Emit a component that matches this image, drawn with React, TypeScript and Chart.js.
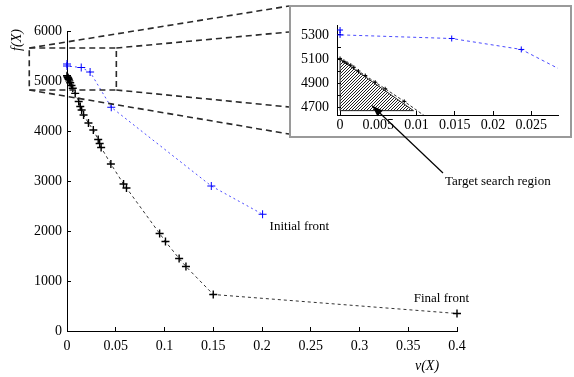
import React, { useEffect, useRef } from 'react';
import { Chart, registerables } from 'chart.js';

Chart.register(...registerables);

// ---------- data ----------
const initialX = [0, 0, 0.0146, 0.0237, 0.0454, 0.148, 0.2006];
const initialY = [5340, 5300, 5270, 5180, 4475, 2900, 2335];

const finalX = [0, 0.0005, 0.0009, 0.0014, 0.0018, 0.0024, 0.0033, 0.0046, 0.0059, 0.0084,
  0.012, 0.0136, 0.015, 0.017, 0.022, 0.027, 0.032, 0.0335, 0.035, 0.045,
  0.058, 0.061, 0.095, 0.101, 0.115, 0.122, 0.15, 0.4];
const finalY = [5106, 5082, 5067, 5050, 5033, 5002, 4965, 4910, 4856, 4752,
  4590, 4490, 4420, 4320, 4160, 4020, 3830, 3750, 3670, 3340,
  2940, 2860, 1950, 1790, 1450, 1290, 730, 350];

// target search region (triangle) in inset data coords
const regionX = [0, 0, 0.0096, 0];
const regionY = [4676, 5100, 4676, 4676];
const regionFillX = [0, 0.0096];
const regionFillY = [5100, 4676];
const regionBase = 4676;

// axis ranges: [min, max, step]
const mainXRange = [0, 0.4, 0.05];
const mainYRange = [0, 6000, 1000];
const insetXRange = [-0.0004, 0.0285, 0.005];
const insetYRange = [4640, 5378, 100];
const insetYLabelled = [4700, 4900, 5100, 5300];

// zoomed box in main-chart data coords
const zoomBoxX = [-0.0387, 0.0506];
const zoomBoxY = [4820, 5660];
const arrowTip = [0.0042, 4716];

const labelInitial = 'Initial front';
const labelFinal = 'Final front';
const labelRegion = 'Target search region';
const yTitle = 'f(X)';
const xTitle = 'v(X)';

// ---------- layout ----------
const W = 574;
const H = 377;
const INSET_LEFT = 289;
const INSET_TOP = 5;
const INSET_W = 285;
const INSET_H = 190;
const BOX_W = 283;
const BOX_H = 133;
const SERIF = "'Liberation Serif', 'Times New Roman', serif";

const pts = (xs: number[], ys: number[]) => xs.map((x, i) => ({ x, y: ys[i] }));
const fmt = (v: number) => (Math.abs(v) < 1e-9 ? '0' : String(Number(v.toFixed(4))));

export default function App() {
  const mainRef = useRef<HTMLCanvasElement>(null);
  const insetRef = useRef<HTMLCanvasElement>(null);

  useEffect(() => {
    document.body.style.margin = '0';
    const mainCanvas = mainRef.current!;
    const insetCanvas = insetRef.current!;

    const mainDecor = {
      id: 'mainDecor',
      afterDraw(chart: any) {
        const { ctx } = chart;
        const xs = chart.scales.x;
        const ys = chart.scales.y;
        ctx.save();
        // zoom rectangle
        const x0 = xs.getPixelForValue(zoomBoxX[0]);
        const x1 = xs.getPixelForValue(zoomBoxX[1]);
        const y0 = ys.getPixelForValue(zoomBoxY[1]);
        const y1 = ys.getPixelForValue(zoomBoxY[0]);
        ctx.strokeStyle = '#2a2a2a';
        ctx.lineWidth = 1.6;
        ctx.setLineDash([6, 4]);
        ctx.strokeRect(x0, y0, x1 - x0, y1 - y0);
        const lines = [
          [x0, y0, INSET_LEFT, 6],
          [x1, y0, INSET_LEFT, 32],
          [x1, y1, INSET_LEFT, 107],
          [x0, y1, INSET_LEFT, 134],
        ];
        ctx.beginPath();
        lines.forEach(([a, b, c, d]) => {
          ctx.moveTo(a, b);
          ctx.lineTo(c, d);
        });
        ctx.stroke();
        ctx.setLineDash([]);

        // series labels
        ctx.fillStyle = '#000';
        ctx.font = `13px ${SERIF}`;
        ctx.textBaseline = 'middle';
        const li = initialX.length - 1;
        const pxI = xs.getPixelForValue(initialX[li]);
        const pyI = ys.getPixelForValue(initialY[li]);
        ctx.textAlign = 'left';
        ctx.fillText(labelInitial, pxI + 7, pyI + 12);
        const lf = finalX.length - 1;
        const pxF = xs.getPixelForValue(finalX[lf]);
        const pyF = ys.getPixelForValue(finalY[lf]);
        ctx.textAlign = 'right';
        ctx.fillText(labelFinal, pxF + 12, pyF - 15);

        // axis titles
        ctx.font = `italic 14px ${SERIF}`;
        ctx.textAlign = 'center';
        ctx.fillText(xTitle, 427, 366);
        ctx.translate(17, 40);
        ctx.rotate(-Math.PI / 2);
        ctx.fillText(yTitle, 0, 0);
        ctx.restore();
      },
    };

    const axisCommon = (range: number[], tickPad: number, tickLen: number) => ({
      type: 'linear' as const,
      min: range[0],
      max: range[1],
      grid: { drawOnChartArea: false, tickLength: tickLen, color: '#000', lineWidth: 1 },
      border: { color: '#000', width: 1 },
      ticks: {
        stepSize: range[2],
        includeBounds: false,
        autoSkip: false,
        maxRotation: 0,
        minRotation: 0,
        padding: tickPad,
        color: '#000',
        font: { family: SERIF, size: 14 },
        callback: (v: any) => fmt(Number(v)),
      },
    });

    const mainChart = new Chart(mainCanvas, {
      type: 'scatter',
      data: {
        datasets: [
          {
            data: pts(initialX, initialY),
            showLine: true,
            borderColor: '#4a4aff',
            borderWidth: 1,
            borderDash: [2, 3],
            pointStyle: 'cross',
            pointRadius: 4,
            pointBorderColor: '#0000ff',
            pointBorderWidth: 1,
            clip: false,
          } as any,
          {
            data: pts(finalX, finalY),
            showLine: true,
            borderColor: '#333',
            borderWidth: 1,
            borderDash: [3, 3],
            pointStyle: 'cross',
            pointRadius: 4,
            pointBorderColor: '#000',
            pointBorderWidth: 1.4,
            clip: false,
          } as any,
        ],
      },
      options: {
        animation: false,
        responsive: false,
        devicePixelRatio: 1,
        events: [],
        layout: { padding: { left: 0, right: 117, top: 31, bottom: 0 } },
        plugins: { legend: { display: false }, tooltip: { enabled: false } },
        scales: {
          x: {
            ...axisCommon(mainXRange, 11, -4),
            position: 'bottom',
            afterFit: (s: any) => { s.height = 46; },
          } as any,
          y: {
            ...axisCommon(mainYRange, 9, -4),
            position: 'left',
            afterFit: (s: any) => { s.width = 67; },
          } as any,
        },
      },
      plugins: [mainDecor],
    });

    // hatch pattern
    const pc = document.createElement('canvas');
    pc.width = 3;
    pc.height = 3;
    const pg = pc.getContext('2d')!;
    pg.strokeStyle = '#222';
    pg.lineWidth = 1;
    pg.beginPath();
    pg.moveTo(0, 3); pg.lineTo(3, 0);
    pg.moveTo(-1, 1); pg.lineTo(1, -1);
    pg.moveTo(2, 4); pg.lineTo(4, 2);
    pg.stroke();
    const hatch = insetCanvas.getContext('2d')!.createPattern(pc, 'repeat');

    const insetDecor = {
      id: 'insetDecor',
      beforeDraw(chart: any) {
        const { ctx } = chart;
        ctx.save();
        ctx.fillStyle = '#fff';
        ctx.fillRect(0, 0, BOX_W, BOX_H);
        ctx.strokeStyle = '#9a9a9a';
        ctx.lineWidth = 2;
        ctx.strokeRect(1, 1, BOX_W - 2, BOX_H - 2);
        ctx.restore();
      },
      afterDraw(chart: any) {
        const { ctx } = chart;
        const xs = chart.scales.x;
        const ys = chart.scales.y;
        const tx = xs.getPixelForValue(arrowTip[0]);
        const ty = ys.getPixelForValue(arrowTip[1]);
        const sx = 154;
        const sy = 168;
        ctx.save();
        ctx.strokeStyle = '#000';
        ctx.fillStyle = '#000';
        ctx.lineWidth = 1.2;
        ctx.beginPath();
        ctx.moveTo(sx, sy);
        ctx.lineTo(tx, ty);
        ctx.stroke();
        const ang = Math.atan2(ty - sy, tx - sx);
        const L = 11;
        const hw = 4;
        const bx = tx - L * Math.cos(ang);
        const by = ty - L * Math.sin(ang);
        ctx.beginPath();
        ctx.moveTo(tx, ty);
        ctx.lineTo(bx + hw * Math.sin(ang), by - hw * Math.cos(ang));
        ctx.lineTo(bx - hw * Math.sin(ang), by + hw * Math.cos(ang));
        ctx.closePath();
        ctx.fill();
        ctx.font = `13px ${SERIF}`;
        ctx.textAlign = 'left';
        ctx.textBaseline = 'middle';
        ctx.fillText(labelRegion, 156, 177);
        ctx.restore();
      },
    };

    const insetClip = { left: 5, top: 5, right: 0, bottom: 0 };

    const insetChart = new Chart(insetCanvas, {
      type: 'scatter',
      data: {
        datasets: [
          {
            data: pts(initialX, initialY),
            showLine: true,
            borderColor: '#4a4aff',
            borderWidth: 1,
            borderDash: [3, 3],
            pointStyle: 'cross',
            pointRadius: 3,
            pointBorderColor: '#0000ff',
            pointBorderWidth: 1,
            clip: insetClip,
          } as any,
          {
            data: pts(finalX, finalY),
            showLine: true,
            borderColor: '#333',
            borderWidth: 1,
            borderDash: [3, 2],
            pointStyle: 'cross',
            pointRadius: 2,
            pointBorderColor: '#000',
            pointBorderWidth: 1,
            clip: insetClip,
          } as any,
          {
            data: pts(regionX, regionY),
            showLine: true,
            borderColor: '#222',
            borderWidth: 1,
            pointRadius: 0,
            fill: false,
          } as any,
          {
            data: pts(regionFillX, regionFillY),
            showLine: true,
            borderWidth: 0,
            borderColor: 'rgba(0,0,0,0)',
            backgroundColor: hatch,
            pointRadius: 0,
            fill: { value: regionBase },
          } as any,
        ],
      },
      options: {
        animation: false,
        responsive: false,
        devicePixelRatio: 1,
        events: [],
        layout: { padding: { left: 0, right: 16, top: 8, bottom: 60 } },
        plugins: { legend: { display: false }, tooltip: { enabled: false } },
        scales: {
          x: {
            ...axisCommon(insetXRange, 6, -4),
            position: 'bottom',
            afterFit: (s: any) => { s.height = 20; },
          } as any,
          y: {
            ...axisCommon(insetYRange, 12, -4),
            position: 'left',
            afterFit: (s: any) => { s.width = 48; },
            ticks: {
              ...axisCommon(insetYRange, 12, -4).ticks,
              callback: (v: any) => (insetYLabelled.includes(Math.round(Number(v))) ? String(Math.round(Number(v))) : ''),
            },
          } as any,
        },
      },
      plugins: [insetDecor],
    });

    return () => {
      mainChart.destroy();
      insetChart.destroy();
    };
  }, []);

  return (
    <div style={{ position: 'relative', width: W, height: H, background: '#fff' }}>
      <canvas ref={mainRef} width={W} height={H} style={{ position: 'absolute', left: 0, top: 0, width: W, height: H }} />
      <canvas
        ref={insetRef}
        width={INSET_W}
        height={INSET_H}
        style={{ position: 'absolute', left: INSET_LEFT, top: INSET_TOP, width: INSET_W, height: INSET_H }}
      />
    </div>
  );
}
